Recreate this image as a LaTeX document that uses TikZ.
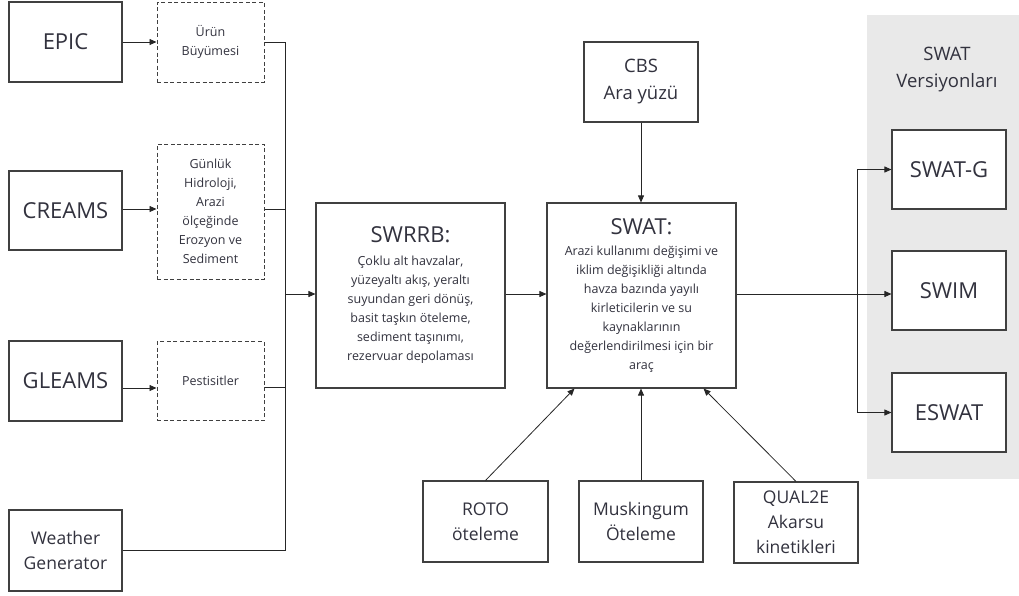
\documentclass[tikz,border=0pt]{standalone}
\usepackage{fontspec}
\setmainfont{Open Sans}
\usetikzlibrary{arrows.meta,calc}
\definecolor{bordc}{RGB}{64,64,64}
\definecolor{panelc}{RGB}{233,233,233}
\definecolor{txtc}{RGB}{50,50,62}
\begin{document}
\begin{tikzpicture}[x=1pt,y=-1pt,
  box/.style={draw=bordc,line width=1.1pt,fill=white,inner sep=0pt,align=center,text=txtc},
  dbox/.style={box,line width=1pt,dash pattern=on 4pt off 2.5pt},
  conn/.style={line width=0.8pt,draw=black!85},
  arr/.style={conn,-{Triangle[length=7pt,width=6pt]}},
  big/.style={font=\fontsize{22pt}{26pt}\selectfont},
  mid/.style={font=\fontsize{17.5pt}{25pt}\selectfont},
  ver/.style={font=\fontsize{18.5pt}{27pt}\selectfont},
  small/.style={font=\fontsize{12.5pt}{19pt}\selectfont}]
\useasboundingbox (0,0) rectangle (1019,595);
% panel
\fill[panelc] (867,15) rectangle (1019,479);
\node[ver,text=txtc,align=center] (vtitle) at (947,70) {SWAT\\Versiyonları};
% left column
\node[box,big,minimum width=113pt,minimum height=80pt] (epic) at (65.5,42) {EPIC};
\node[box,big,minimum width=113pt,minimum height=79pt] (creams) at (65.5,210.5) {CREAMS};
\node[box,big,minimum width=113pt,minimum height=80pt] (gleams) at (65.5,381) {GLEAMS};
\node[box,mid,minimum width=113pt,minimum height=81pt] (weather) at (65.5,550.5) {Weather\\Generator};
% dashed boxes
\node[dbox,small,minimum width=107pt,minimum height=80pt] (urun) at (210.5,42) {Ürün\\Büyümesi};
\node[dbox,small,minimum width=107pt,minimum height=135pt] (gunluk) at (210.5,211.5) {Günlük\\Hidroloji,\\Arazi\\ölçeğinde\\Erozyon ve\\Sediment};
\node[dbox,small,minimum width=107pt,minimum height=79pt] (pest) at (210.5,381) {Pestisitler};
% centre
\node[box,small,minimum width=189pt,minimum height=185pt] (swrrb) at (410.5,295.5)
  {\fontsize{22pt}{26pt}\selectfont SWRRB:\\[4pt]Çoklu alt havzalar,\\yüzeyaltı akış, yeraltı\\suyundan geri dönüş,\\basit taşkın öteleme,\\sediment taşınımı,\\rezervuar depolaması};
\node[box,small,minimum width=189pt,minimum height=185pt] (swat) at (641.5,295.5)
  {\fontsize{22pt}{26pt}\selectfont SWAT:\\[2pt]Arazi kullanımı değişimi ve\\iklim değişikliği altında\\havza bazında yayılı\\kirleticilerin ve su\\kaynaklarının\\değerlendirilmesi için bir\\araç};
\node[box,ver,minimum width=114pt,minimum height=80pt] (cbs) at (641,82) {CBS\\Ara yüzü};
\node[box,mid,minimum width=125pt,minimum height=81pt] (roto) at (485.5,521.5) {ROTO\\öteleme};
\node[box,mid,minimum width=124pt,minimum height=81pt] (musk) at (641,521.5) {Muskingum\\Öteleme};
\node[box,mid,minimum width=124pt,minimum height=81pt] (qual) at (796,522.5) {QUAL2E\\Akarsu\\kinetikleri};
% right
\node[box,big,minimum width=114pt,minimum height=79pt] (swatg) at (949,169.5) {SWAT-G};
\node[box,big,minimum width=114pt,minimum height=79pt] (swim) at (949,290.5) {SWIM};
\node[box,big,minimum width=114pt,minimum height=79pt] (eswat) at (949,412.5) {ESWAT};
% helper coordinates
\coordinate (bus) at (285,42);
\coordinate (yg) at (0,388);
\coordinate (yp) at (0,387);
\coordinate (yc) at (0,209);
\coordinate (ys) at (0,294);
\coordinate (br) at (857,170);
\coordinate (rin) at ($(swat.south west)+(28,0)$);
\coordinate (qin) at ($(swat.south east)+(-33,0)$);
% connectors left
\draw[arr] (epic.east) -- (urun.west);
\draw[arr] (creams.east |- yc) -- (gunluk.west |- yc);
\draw[arr] (gleams.east |- yg) -- (pest.west |- yg);
\draw[conn] (urun.east) -- (bus) -- (bus |- weather.east) -- (weather.east);
\draw[conn] (gunluk.east |- yc) -- (bus |- yc);
\draw[conn] (pest.east |- yp) -- (bus |- yp);
\draw[arr] (bus |- ys) -- (swrrb.west |- ys);
\draw[arr] (swrrb.east |- ys) -- (swat.west |- ys);
% centre connectors
\draw[arr] (cbs.south) -- (cbs.south |- swat.north);
\draw[arr] (roto.north) -- (rin);
\draw[arr] (musk.north) -- (musk.north |- swat.south);
\draw[arr] (qual.north) -- (qin);
% right connectors
\draw[arr] (swat.east |- ys) -- (swim.west |- ys);
\draw[arr] (br |- ys) -- (br |- swatg.west) -- (swatg.west);
\draw[arr] (br |- ys) -- (br |- eswat.west) -- (eswat.west);
\end{tikzpicture}
\end{document}
